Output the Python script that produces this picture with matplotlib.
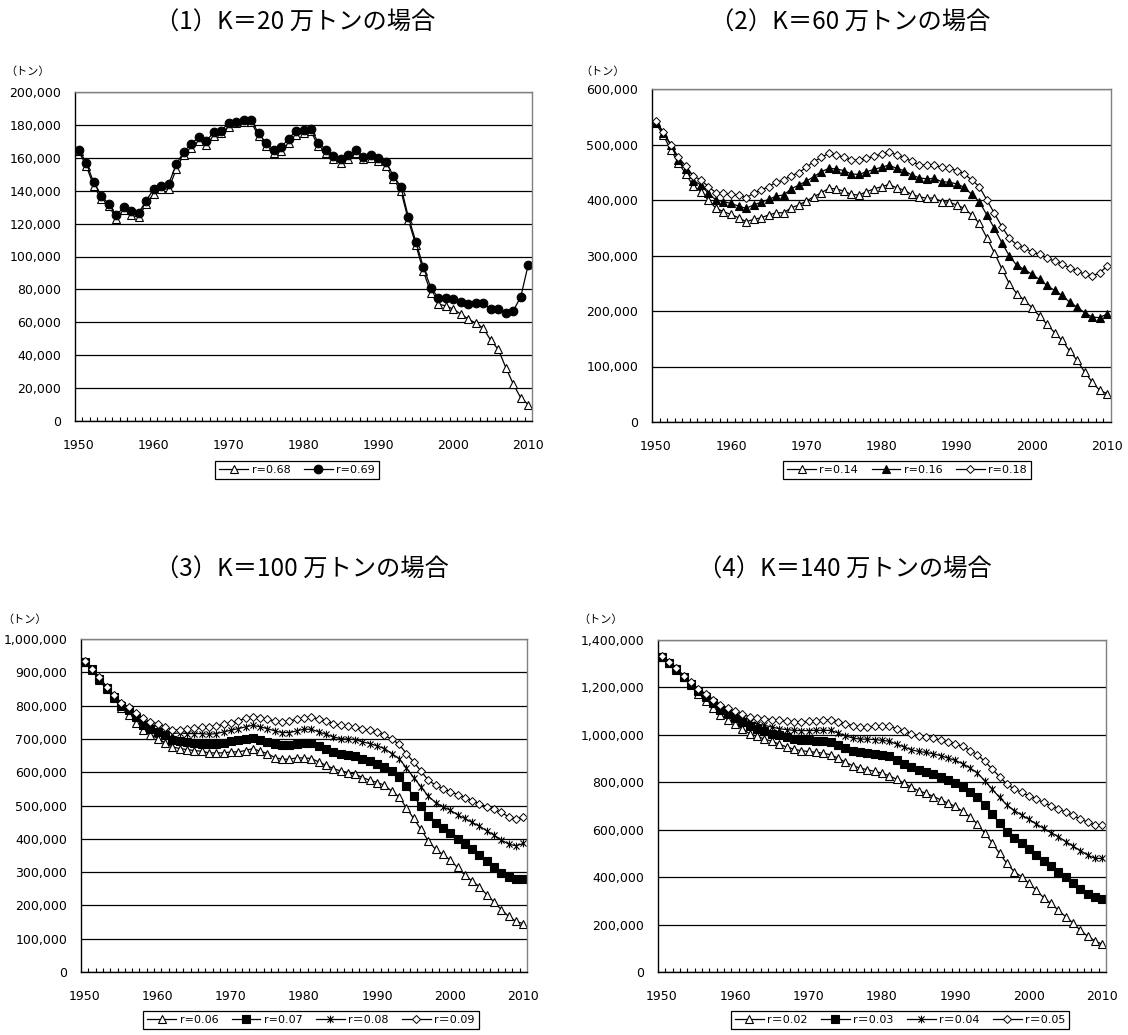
import numpy as np
import matplotlib
matplotlib.use('Agg')
import matplotlib.pyplot as plt
from matplotlib.path import Path
from matplotlib.ticker import FuncFormatter, MultipleLocator, FixedLocator

plt.rcParams['font.family'] = ['DejaVu Sans', 'Noto Sans CJK JP']

# ---------------- data (thousand tonnes) ----------------
YEARS = list(range(1950, 2011))
XTICKS = [1950, 1960, 1970, 1980, 1990, 2000, 2010]

TITLES = ['（1）K＝20 万トンの場合', '（2）K＝60 万トンの場合',
          '（3）K＝100 万トンの場合', '（4）K＝140 万トンの場合']
UNIT = '（トン）'

P1_LABELS = ['r=0.68', 'r=0.69']
P1_R068 = [164, 155, 143, 135, 131, 123, 128, 125, 124, 132,
           138, 141, 141, 153, 162, 166, 170, 168, 173, 175,
           179, 181, 182, 182, 173, 167, 163, 164, 169, 174,
           175, 176, 167, 163, 159, 157, 159, 163, 159, 160,
           158, 155, 147, 140, 122, 107, 91, 78, 71, 70,
           68, 65, 62, 59.5, 56.5, 49, 43.5, 32.5, 22.5, 14, 10]
P1_R069 = [165, 157, 145, 137, 132, 125, 130, 127.5, 126.5, 134,
           141, 143, 144, 156, 163.5, 168.5, 172.5, 170, 175.5, 176.5,
           181, 182, 183, 183, 175, 169, 165, 166.5, 171.5, 176.5,
           177, 177.5, 169, 165, 161, 159, 161.5, 165, 160.5, 161.5,
           160, 157.5, 149, 142.5, 124, 109, 93.5, 81, 75, 75,
           74, 72.5, 71, 71.5, 71.5, 68, 68, 65.5, 67, 75.5, 95]

P2_LABELS = ['r=0.14', 'r=0.16', 'r=0.18']
P2_R014 = [538, 517, 490, 467, 447, 425, 415, 400, 385, 379,
           374, 368, 361, 365, 368, 373, 377, 377, 386, 391,
           398, 406, 413, 421, 420, 416, 410, 409, 415, 420,
           424, 428, 422, 418, 410, 406, 403, 404, 397, 396,
           391, 385, 373, 358, 332, 305, 276, 249, 231, 219,
           206, 191, 176, 161, 147, 128, 111, 90, 72, 57, 51]
P2_R016 = [541, 521, 499, 472, 455, 435, 427, 412, 400, 397,
           394, 389, 385, 391, 396, 401, 407, 409, 420, 427,
           434, 442, 451, 457, 456, 453, 447, 446, 451, 455,
           459, 463, 457, 453, 445, 440, 438, 439, 433, 432,
           429, 423, 410, 397, 373, 349, 323, 299, 282, 275,
           266, 257, 246, 237, 228, 216, 207, 197, 189, 188, 195]
P2_R018 = [542, 523, 500, 477, 461, 443, 436, 424, 413, 412,
           410, 409, 404, 412, 418, 424, 432, 436, 444, 449,
           459, 469, 477, 484, 481, 477, 472, 472, 475, 479,
           483, 487, 481, 476, 470, 463, 463, 463, 459, 457,
           453, 447, 436, 424, 400, 376, 352, 331, 319, 313,
           307, 302, 295, 290, 285, 278, 272, 266, 263, 269, 281]

P3_LABELS = ['r=0.06', 'r=0.07', 'r＝0.08', 'r＝0.09']
P3_R006 = [932, 907, 877, 849, 822, 792, 772, 747, 726, 713,
           701, 688, 676, 671, 668, 665, 663, 658, 658, 658,
           661, 661, 665, 671, 663, 656, 644, 639, 639, 643,
           643, 641, 631, 621, 611, 604, 599, 594, 584, 576,
           569, 561, 543, 526, 493, 461, 428, 394, 368, 353,
           336, 314, 291, 273, 256, 232, 210, 187, 167, 152, 145]
P3_R007 = [932, 909, 881, 852, 827, 800, 787, 765, 742, 731,
           721, 711, 696, 693, 691, 689, 686, 684, 686, 688,
           693, 696, 701, 703, 698, 691, 684, 681, 683, 686,
           688, 689, 678, 669, 661, 656, 651, 648, 639, 633,
           626, 616, 603, 586, 558, 528, 498, 468, 446, 431,
           416, 400, 383, 368, 351, 333, 316, 298, 286, 278, 278]
P3_R008 = [933, 910, 884, 855, 829, 805, 792, 770, 754, 745,
           736, 728, 716, 718, 716, 716, 716, 714, 716, 721,
           726, 731, 736, 741, 736, 731, 724, 719, 719, 724,
           729, 729, 721, 714, 706, 701, 699, 698, 691, 686,
           679, 671, 656, 641, 613, 584, 556, 528, 509, 496,
           486, 472, 461, 449, 438, 424, 411, 396, 384, 379, 386]
P3_R009 = [934, 911, 885, 857, 832, 809, 795, 777, 762, 752,
           745, 736, 726, 728, 729, 732, 735, 736, 739, 744,
           748, 754, 762, 767, 764, 759, 754, 751, 754, 759,
           763, 766, 759, 754, 746, 741, 738, 736, 731, 726,
           721, 711, 699, 684, 656, 631, 603, 576, 561, 551,
           542, 533, 523, 514, 506, 496, 488, 479, 466, 459, 466]

P4_LABELS = ['r＝0.02', 'r＝0.03', 'r＝0.04', 'r＝0.05']
P4_R002 = [1330, 1303, 1274, 1243, 1212, 1174, 1142, 1113, 1085, 1064,
           1047, 1025, 1004, 994, 982, 973, 961, 949, 940, 933,
           930, 926, 923, 916, 902, 885, 870, 860, 853, 846,
           839, 827, 813, 796, 779, 764, 754, 740, 726, 712,
           698, 677, 653, 624, 585, 545, 500, 458, 423, 402,
           374, 345, 314, 289, 261, 233, 207, 176, 151, 131, 117]
P4_R003 = [1330, 1304, 1276, 1245, 1215, 1184, 1160, 1135, 1106, 1088,
           1071, 1053, 1036, 1025, 1015, 1005, 998, 989, 984, 980,
           977, 975, 973, 970, 958, 944, 934, 927, 923, 920,
           916, 909, 895, 878, 864, 853, 844, 834, 822, 808,
           796, 782, 761, 740, 705, 667, 627, 592, 564, 543,
           517, 493, 469, 447, 423, 399, 376, 352, 331, 317, 306]
P4_R004 = [1331, 1305, 1280, 1247, 1219, 1188, 1166, 1142, 1116, 1099,
           1082, 1067, 1053, 1046, 1040, 1033, 1026, 1022, 1019, 1018,
           1018, 1019, 1019, 1019, 1008, 996, 987, 982, 982, 980,
           977, 973, 961, 949, 937, 930, 926, 920, 912, 902,
           892, 878, 860, 839, 806, 771, 736, 705, 681, 662,
           644, 624, 606, 588, 571, 550, 531, 512, 493, 479, 479]
P4_R005 = [1332, 1306, 1281, 1250, 1222, 1194, 1173, 1149, 1128, 1113,
           1099, 1088, 1075, 1071, 1068, 1064, 1061, 1057, 1054, 1054,
           1057, 1060, 1061, 1064, 1056, 1047, 1039, 1033, 1033, 1036,
           1036, 1036, 1026, 1015, 1005, 996, 991, 987, 977, 970,
           963, 951, 934, 916, 888, 856, 824, 792, 772, 757,
           743, 729, 715, 700, 688, 674, 660, 646, 631, 620, 620]

# ---------------- styling ----------------
W, H = 1128, 1035
fig = plt.figure(figsize=(W / 100, H / 100), dpi=100)


def rect(x0, y0, x1, y1):
    return [x0 / W, 1 - y1 / H, (x1 - x0) / W, (y1 - y0) / H]


STAR = Path([(0, -1), (0, 1), (-0.8, -0.8), (0.8, 0.8), (-0.8, 0.8), (0.8, -0.8)],
            [Path.MOVETO, Path.LINETO] * 3)

TRI_OPEN = dict(marker='^', mfc='white', mec='black', mew=0.8)
TRI_FILL = dict(marker='^', mfc='black', mec='black', mew=0.8)
CIRC = dict(marker='o', mfc='black', mec='black', mew=0.8)
DIAM = dict(marker='D', mfc='white', mec='black', mew=0.7)
SQR = dict(marker='s', mfc='black', mec='black', mew=0.8)
AST = dict(marker=STAR, mfc='none', mec='black', mew=0.8)

fmt = FuncFormatter(lambda v, p: f'{v:,.0f}')


def panel(r, series, labels, styles, sizes, ymax, step, title, title_xy, unit_xy, leg_xy):
    ax = fig.add_axes(rect(*r))
    for vals, lab, st, ms in zip(series, labels, styles, sizes):
        ax.plot(YEARS, np.array(vals) * 1000, color='black', lw=0.9, label=lab, ms=ms, **st)
    ax.set_xlim(1949.5, 2010.5)
    ax.set_ylim(0, ymax)
    ax.yaxis.set_major_locator(MultipleLocator(step))
    ax.yaxis.set_major_formatter(fmt)
    ax.grid(axis='y', color='black', lw=0.9)
    ax.set_axisbelow(True)
    ax.xaxis.set_major_locator(FixedLocator(XTICKS))
    ax.xaxis.set_minor_locator(FixedLocator([y + 0.5 for y in YEARS[:-1]]))
    ax.tick_params(axis='x', which='major', length=0, pad=13, labelsize=9)
    ax.tick_params(axis='x', which='minor', length=3, direction='in', width=0.8)
    ax.tick_params(axis='y', length=0, pad=10, labelsize=9)
    for s in ('left', 'bottom'):
        ax.spines[s].set_color('black')
        ax.spines[s].set_linewidth(1.0)
    for s in ('top', 'right'):
        ax.spines[s].set_color('#808080')
        ax.spines[s].set_linewidth(1.0)
    fig.text(title_xy[0] / W, 1 - title_xy[1] / H, title, ha='center', va='center',
             fontsize=17.5, family=['Noto Sans CJK JP'])
    fig.text(unit_xy[0] / W, 1 - unit_xy[1] / H, UNIT, ha='left', va='center',
             fontsize=8, family=['Noto Sans CJK JP'])
    h, l = ax.get_legend_handles_labels()
    leg = fig.legend(h, l, loc='center', bbox_to_anchor=(leg_xy[0] / W, 1 - leg_xy[1] / H),
                     ncol=len(l), frameon=True, fancybox=False, edgecolor='black',
                     handlelength=2.6, handletextpad=0.3, columnspacing=1.2,
                     borderpad=0.35, framealpha=1,
                     prop={'family': ['DejaVu Sans', 'Noto Sans CJK JP'], 'size': 8})
    leg.get_frame().set_linewidth(0.9)
    return ax


panel((75, 92, 532, 421), [P1_R068, P1_R069], P1_LABELS, [TRI_OPEN, CIRC], [5.5, 6.2],
      200000, 20000, TITLES[0], (295, 23), (5, 72), (297, 470))
panel((652, 89, 1111, 422), [P2_R014, P2_R016, P2_R018], P2_LABELS,
      [TRI_OPEN, TRI_FILL, DIAM], [5.5, 5.5, 4.2],
      600000, 100000, TITLES[1], (850, 23), (580, 72), (907, 470))
panel((81, 639, 527, 972), [P3_R006, P3_R007, P3_R008, P3_R009], P3_LABELS,
      [TRI_OPEN, SQR, AST, DIAM], [5.2, 5.5, 5.5, 4.2],
      1000000, 100000, TITLES[2], (302, 570), (2, 620), (311, 1020))
panel((658, 640, 1106, 972), [P4_R002, P4_R003, P4_R004, P4_R005], P4_LABELS,
      [TRI_OPEN, SQR, AST, DIAM], [5.2, 5.5, 5.5, 4.2],
      1400000, 200000, TITLES[3], (845, 570), (578, 620), (900, 1020))

fig.savefig('out.png', dpi=100, facecolor='white')
